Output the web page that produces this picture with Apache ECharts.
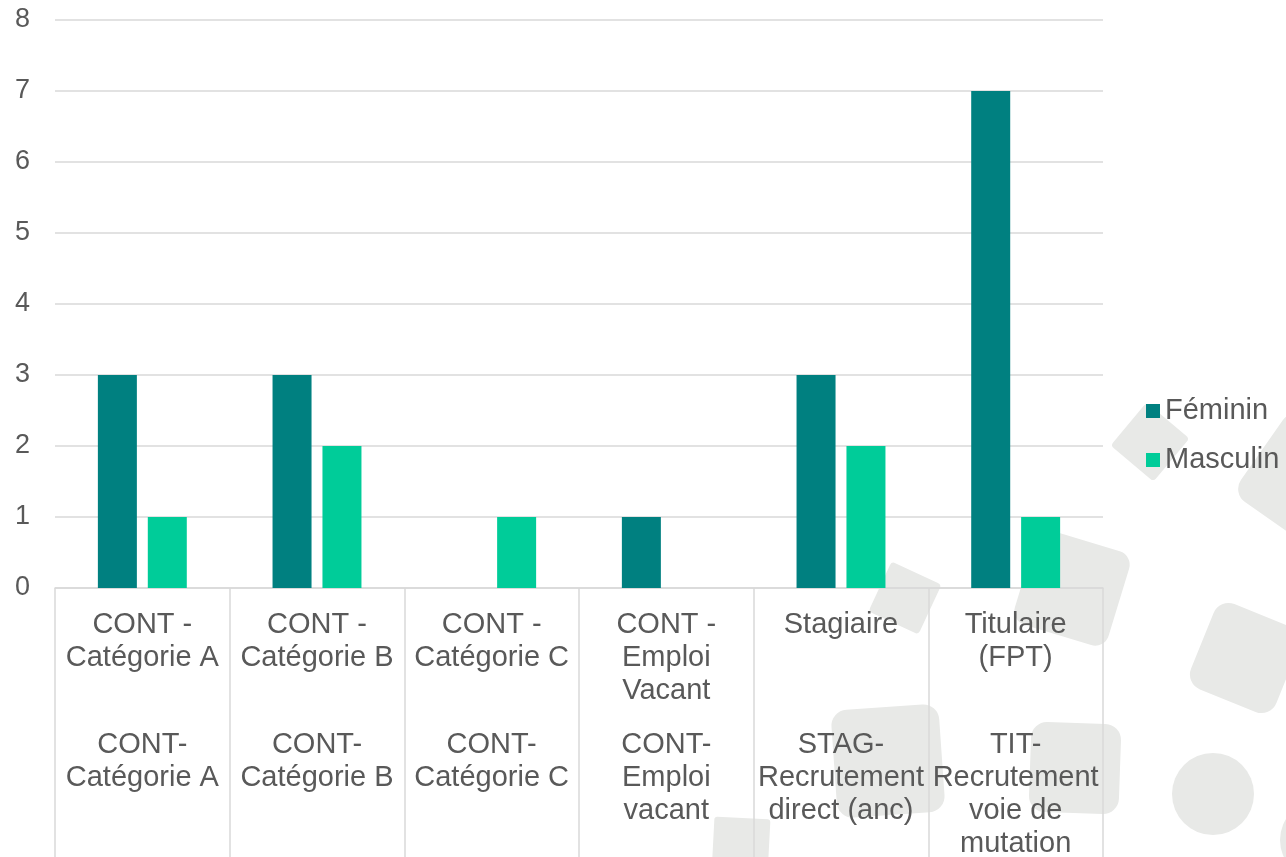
<!DOCTYPE html>
<html>
<head>
<meta charset="utf-8">
<script src="https://cdn.jsdelivr.net/npm/echarts@6/dist/echarts.min.js"></script>
<style>
html,body{margin:0;padding:0;background:#fff;}
#chart{width:1286px;height:857px;}
</style>
</head>
<body>
<div id="chart"></div>
<script>
// ---- data ----
var categoriesLevel1 = ["CONT -\nCatégorie A", "CONT -\nCatégorie B", "CONT -\nCatégorie C", "CONT -\nEmploi\nVacant", "Stagiaire", "Titulaire\n(FPT)"];
var categoriesLevel2 = ["CONT-\nCatégorie A", "CONT-\nCatégorie B", "CONT-\nCatégorie C", "CONT-\nEmploi\nvacant", "STAG-\nRecrutement\ndirect (anc)", "TIT-\nRecrutement\nvoie de\nmutation"];
var seriesNames = ["Féminin", "Masculin"];
var feminin = [3, 3, null, 1, 3, 7];
var masculin = [1, 2, 1, null, 2, 1];
var yTicks = [0, 1, 2, 3, 4, 5, 6, 7, 8];

// ---- decorative background shapes ----
var shapeColor = '#e8e9e7';
function rrect(cx, cy, s, deg, r) {
  return {type: 'rect', x: cx, y: cy, rotation: -deg * Math.PI / 180, z: -10,
    shape: {x: -s / 2, y: -s / 2, width: s, height: s, r: r}, style: {fill: shapeColor}};
}
var decor = [
  rrect(1150, 442, 56, 40, 4),
  rrect(1305, 480, 105, 35, 16),
  rrect(1072, 588, 98, 17, 14),
  rrect(1245, 658, 92, 22, 16),
  rrect(905, 598, 55, 25, 4),
  rrect(888, 761, 108, -4, 16),
  rrect(1075, 768, 90, 2, 16),
  rrect(741, 846, 56, 3, 3),
  {type: 'circle', x: 1213, y: 794, z: -10, shape: {cx: 0, cy: 0, r: 41}, style: {fill: shapeColor}},
  {type: 'circle', x: 1320, y: 840, z: -10, shape: {cx: 0, cy: 0, r: 40}, style: {fill: shapeColor}}
];

var font = "'Liberation Sans', Arial, sans-serif";
var txt = '#595959';
var grid = '#d9d9d9';

var chart = echarts.init(document.getElementById('chart'));
chart.setOption({
  animation: false,
  backgroundColor: '#ffffff',
  textStyle: {fontFamily: font},
  graphic: decor,
  grid: {left: 55, right: 183, top: 20, bottom: 269, containLabel: false, outerBoundsMode: 'none'},
  legend: {
    orient: 'vertical', left: 1146, top: 396, padding: 0,
    itemWidth: 14, itemHeight: 14, itemGap: 19,
    icon: 'rect',
    data: seriesNames,
    textStyle: {fontFamily: font, fontSize: 29, color: txt, lineHeight: 30}
  },
  xAxis: [{
    type: 'category', data: categoriesLevel1, position: 'bottom',
    axisLine: {show: true, lineStyle: {color: grid, width: 1.5}},
    axisTick: {show: true, interval: 0, length: 270, lineStyle: {color: grid, width: 1.5}},
    axisLabel: {interval: 0, margin: 20, fontFamily: font, fontSize: 29, lineHeight: 33, color: txt, align: 'center'}
  }, {
    type: 'category', data: categoriesLevel2, position: 'bottom', offset: 120, gridIndex: 0,
    axisLine: {show: false}, axisTick: {show: false},
    axisLabel: {interval: 0, margin: 20, fontFamily: font, fontSize: 29, lineHeight: 33, color: txt, align: 'center'}
  }],
  yAxis: {
    type: 'value', min: yTicks[0], max: yTicks[yTicks.length - 1], interval: 1,
    axisLine: {show: false}, axisTick: {show: false},
    splitLine: {lineStyle: {color: grid, width: 1.5}},
    axisLabel: {margin: 25, fontFamily: font, fontSize: 27, color: txt}
  },
  series: [{
    name: seriesNames[0], type: 'bar', data: feminin, barWidth: 39, barGap: '28%',
    itemStyle: {color: '#008080'}
  }, {
    name: seriesNames[1], type: 'bar', data: masculin, barWidth: 39, barGap: '28%',
    itemStyle: {color: '#00cc99'}
  }]
});
</script>
</body>
</html>
